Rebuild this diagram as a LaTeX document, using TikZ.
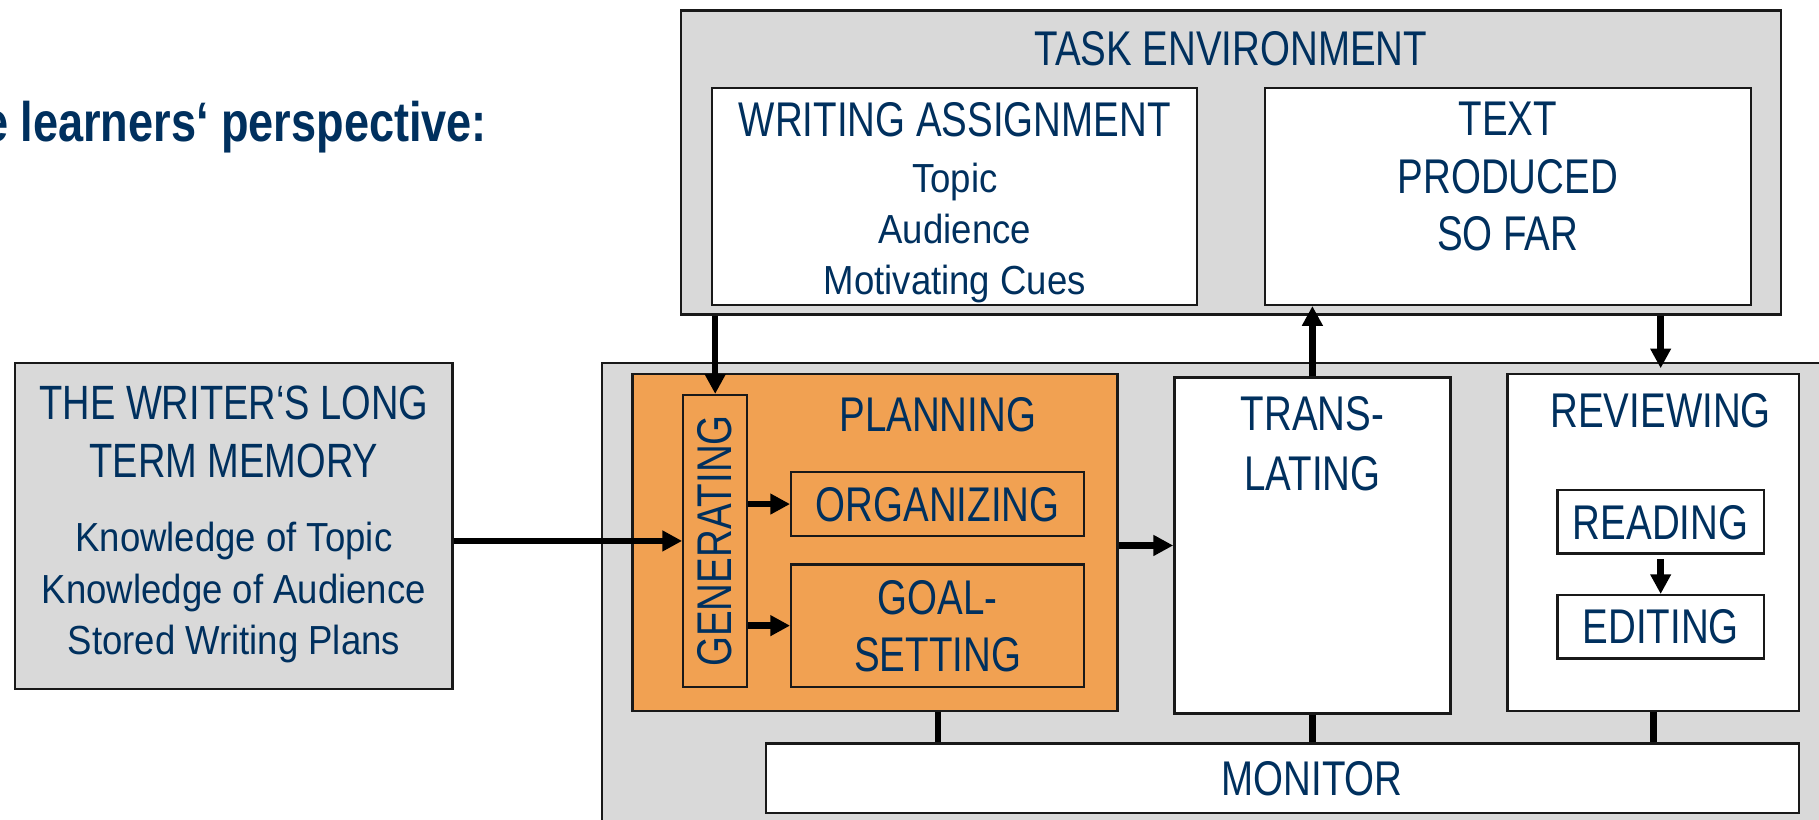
\documentclass[tikz,border=0pt]{standalone}
\usepackage{fontspec}
\setmainfont{Liberation Sans}[FakeStretch=0.79]
\newfontfamily\subfont{Liberation Sans}[FakeStretch=0.9]
\newfontfamily\titlefont{Liberation Sans}[FakeStretch=0.81]
\usetikzlibrary{arrows.meta,positioning}
\definecolor{navy}{RGB}{0,48,94}
\definecolor{panel}{RGB}{217,217,217}
\definecolor{plancol}{RGB}{241,161,82}
\begin{document}
\begin{tikzpicture}[x=1pt,y=-1pt,
    box/.style={draw=black!90,line width=2pt,inner sep=0pt},
    hd/.style={text=navy,font=\fontsize{42}{50}\selectfont,anchor=base,inner sep=0pt},
    sub/.style={text=navy,font=\subfont\fontsize{35}{44}\selectfont,anchor=base,inner sep=0pt},
    arr/.style={line width=5.5pt,-{Triangle[length=17pt,width=17pt]}},
    link/.style={line width=5.5pt}]
    \useasboundingbox (0,0) rectangle (1568,706);
    %titre
    \node[text=navy,font=\titlefont\bfseries\fontsize{48}{56}\selectfont,anchor=base east,inner sep=0pt] (title) at (420,122) {e learners‘ perspective:};
    %task environment
    \node[box,fill=panel,minimum width=948pt,minimum height=262pt] (te) at (1061,140) {};
    \node[hd] (tetxt) at (1061,56.6) {TASK ENVIRONMENT};
    \node[box,fill=white,minimum width=418pt,minimum height=187pt] (wa) at (823,169.3) {};
    \node[hd] (watxt) at (823,117.8) {WRITING ASSIGNMENT};
    \foreach \t [count=\i] in {Topic,Audience,Motivating Cues}
        \node[sub] (wa\i) at (823,{166+44*(\i-1)}) {\t};
    \node[box,fill=white,minimum width=419pt,minimum height=187pt] (tp) at (1299.7,169.3) {};
    \foreach \t [count=\i] in {TEXT,PRODUCED,SO FAR}
        \node[hd] (tp\i) at (1299.7,{117.2+49.2*(\i-1)}) {\t};
    %long term memory
    \node[box,fill=panel,minimum width=377pt,minimum height=281pt] (ltm) at (201.6,453.3) {};
    \node[hd,font=\fontsize{41.5}{50}\selectfont] (ltm1) at (201.6,362) {THE WRITER‘S LONG};
    \node[hd,font=\fontsize{41.5}{50}\selectfont] (ltm2) at (201.6,412) {TERM MEMORY};
    \foreach \t [count=\i] in {Knowledge of Topic,Knowledge of Audience,Stored Writing Plans}
        \node[sub] (ltmsub\i) at (201.6,{475.6+44.2*(\i-1)}) {\t};
    %writer
    \node[box,fill=panel,minimum width=1081pt,minimum height=412pt] (wr) at (1059.5,518.8) {};
    %planning
    \node[box,fill=plancol,minimum width=418pt,minimum height=290pt] (plan) at (754.3,467.6) {};
    \node[hd] (plantxt) at (808.4,372) {PLANNING};
    \node[box,minimum width=55pt,minimum height=251.5pt] (gen) at (616.5,466.3) {};
    \node[hd,rotate=90,anchor=center] (gentxt) at (gen) {GENERATING};
    \node[box,minimum width=252.5pt,minimum height=55pt] (org) at (808.3,434.5) {};
    \node[hd] (orgtxt) at (808.3,449.7) {ORGANIZING};
    \node[box,minimum width=252.5pt,minimum height=105.5pt] (goal) at (808.3,539.3) {};
    \node[hd] (goal1) at (808.3,529.3) {GOAL-};
    \node[hd] (goal2) at (808.3,579) {SETTING};
    %translating
    \node[box,fill=white,minimum width=238pt,minimum height=289.7pt] (trans) at (1131.3,470.2) {};
    \node[hd] (trans1) at (1131.3,371.3) {TRANS-};
    \node[hd] (trans2) at (1131.3,422.4) {LATING};
    %reviewing
    \node[box,fill=white,minimum width=251.4pt,minimum height=290.3pt] (rev) at (1425.3,467.6) {};
    \node[hd] (revtxt) at (1431.5,368.4) {REVIEWING};
    \node[box,fill=white,minimum width=177.7pt,minimum height=54.6pt] (read) at (1431.5,449.7) {};
    \node[hd] (readtxt) at (1431.5,464.7) {READING};
    \node[box,fill=white,minimum width=177.7pt,minimum height=54.5pt] (edit) at (1431.5,540.3) {};
    \node[hd] (edittxt) at (1431.5,554.6) {EDITING};
    %monitor
    \node[box,fill=white,minimum width=891pt,minimum height=60.2pt] (mon) at (1105.5,670.9) {};
    \node[hd] (montxt) at (1131,685.3) {MONITOR};
    %fleches
    \draw[arr] (gen.north |- te.south) -- (gen.north);
    \draw[arr] (ltm.east |- gen.west) -- (gen.west);
    \draw[arr] (gen.east |- org.west) -- (org.west);
    \draw[arr] (gen.east |- goal.west) -- (goal.west);
    \draw[arr] (plan.east |- trans.west) -- (trans.west);
    \draw[arr] (trans.north) -- (trans.north |- tp.south);
    \draw[arr] (read.north |- te.south) -- ([yshift=4pt]read.north |- rev.north);
    \draw[arr] ([yshift=-4pt]read.south) -- (edit.north);
    \draw[link] (org.south |- plan.south) -- (org.south |- mon.north);
    \draw[link] (trans.south) -- (trans.south |- mon.north);
    \draw[link] (rev.south) -- (rev.south |- mon.north);
\end{tikzpicture}
\end{document}
